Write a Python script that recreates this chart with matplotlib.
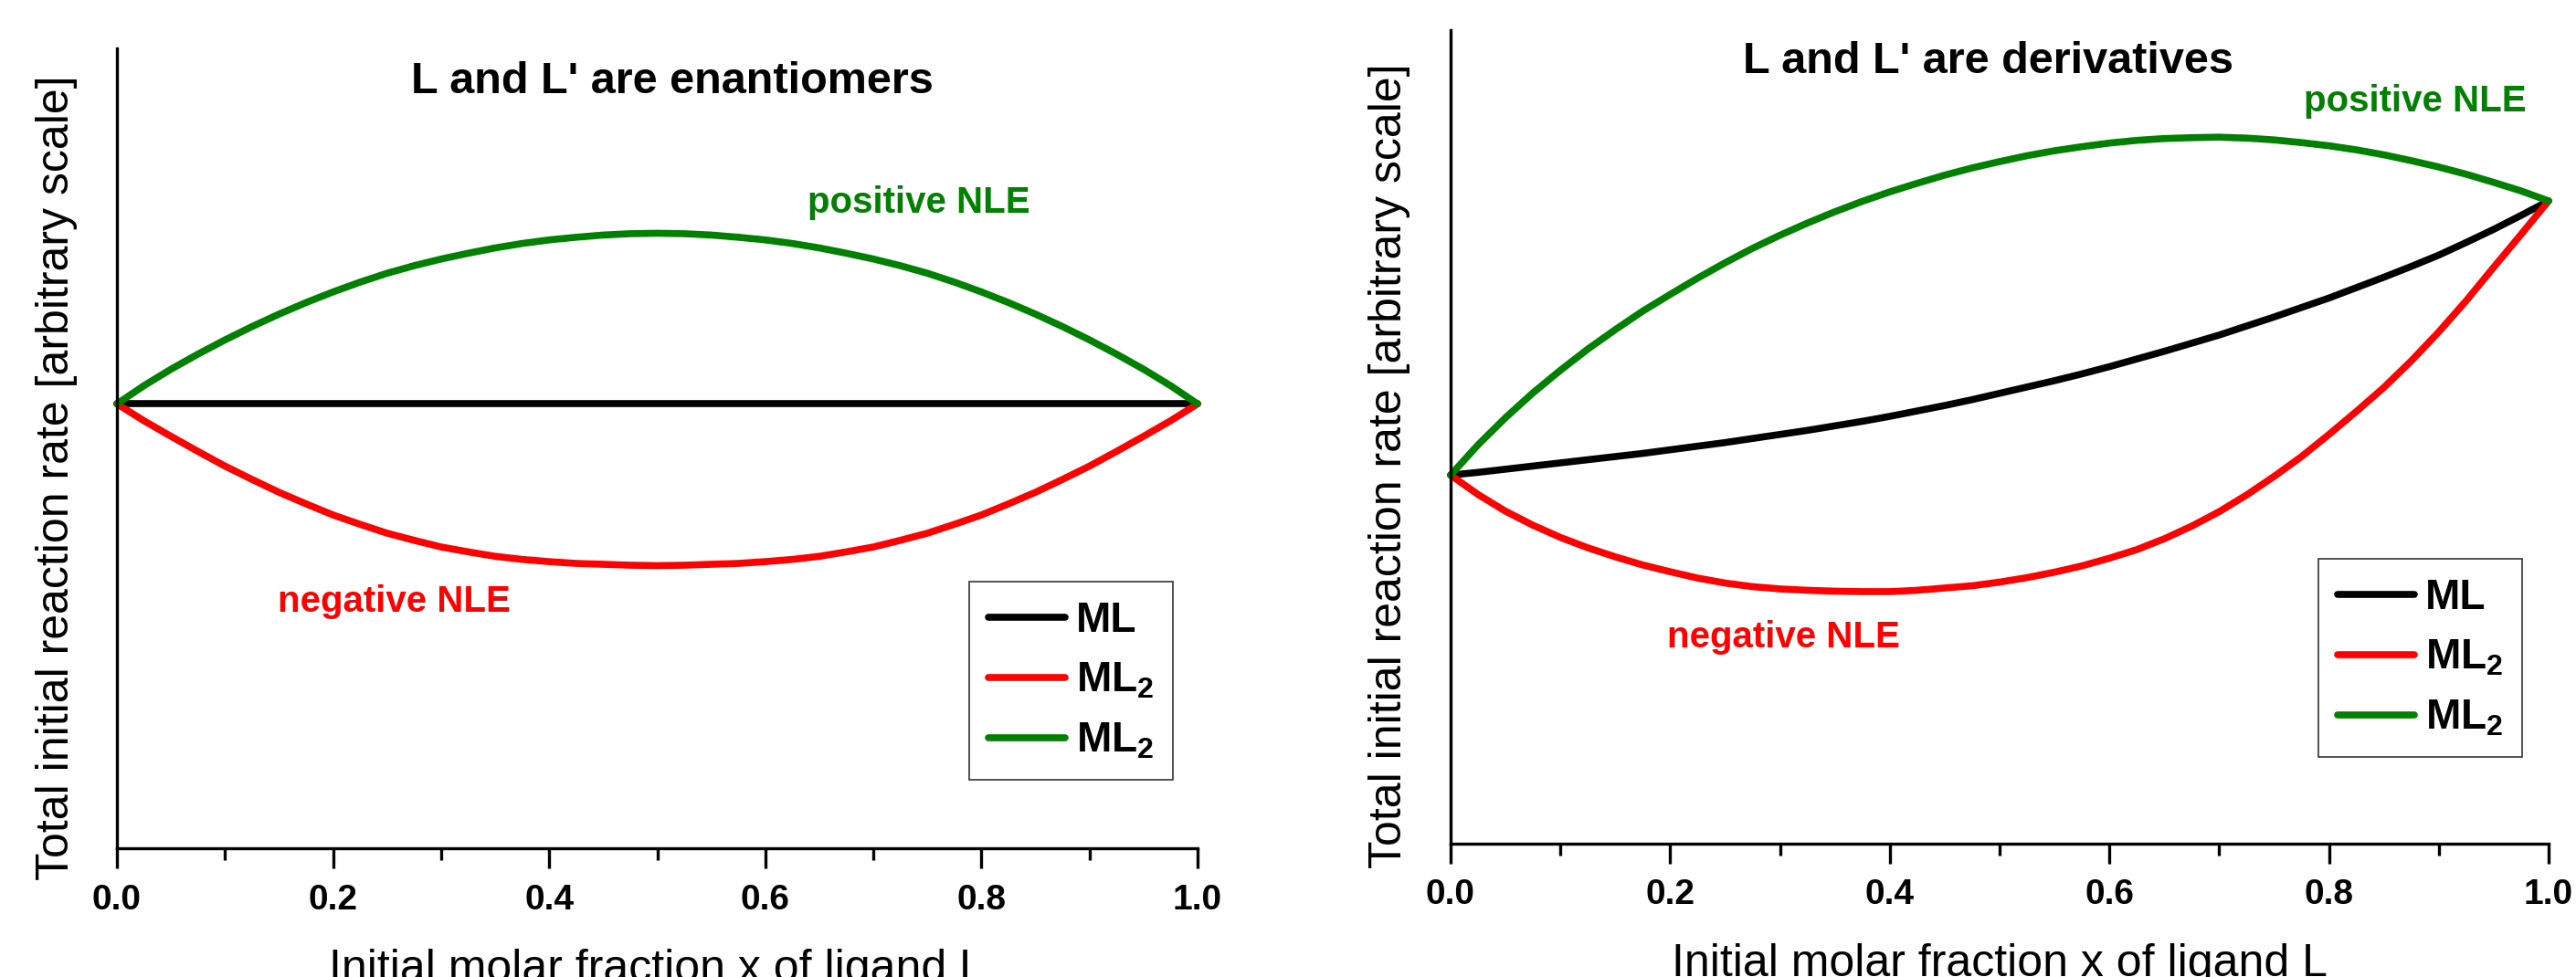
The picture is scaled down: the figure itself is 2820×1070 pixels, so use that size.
import matplotlib
matplotlib.use('agg')
import matplotlib.pyplot as plt
from matplotlib import font_manager

names = {f.name for f in font_manager.fontManager.ttflist}
fam = 'Liberation Sans' if 'Liberation Sans' in names else 'DejaVu Sans'
plt.rcParams['font.family'] = [fam, 'DejaVu Sans']
plt.rcParams['mathtext.fontset'] = 'custom'
plt.rcParams['mathtext.rm'] = fam + ':bold'
plt.rcParams['mathtext.bf'] = fam + ':bold'
plt.rcParams['mathtext.default'] = 'bf'

# molar fraction grid, step 0.025
x_frac = [i * 0.025 for i in range(41)]

# L and L' are enantiomers
ml_enant = [1.0] * 41
neg_enant = [1.0, 0.962, 0.927, 0.893, 0.860, 0.830, 0.801, 0.775, 0.750, 0.729,
             0.709, 0.693, 0.678, 0.667, 0.657, 0.650, 0.645, 0.641, 0.639, 0.637,
             0.636,
             0.637, 0.639, 0.641, 0.645, 0.650, 0.657, 0.667, 0.678, 0.693, 0.709,
             0.729, 0.750, 0.775, 0.801, 0.830, 0.860, 0.893, 0.927, 0.962, 1.0]
pos_enant = [1.0, 1.041, 1.078, 1.112, 1.144, 1.174, 1.202, 1.228, 1.252, 1.274,
             1.294, 1.311, 1.326, 1.339, 1.351, 1.361, 1.369, 1.375, 1.380, 1.383,
             1.384,
             1.383, 1.380, 1.375, 1.369, 1.361, 1.351, 1.339, 1.326, 1.311, 1.294,
             1.274, 1.252, 1.228, 1.202, 1.174, 1.144, 1.112, 1.078, 1.041, 1.0]

# L and L' are derivatives
ml_deriv = [0.815, 0.821, 0.828, 0.835, 0.842, 0.849, 0.856, 0.863, 0.871, 0.879,
            0.887, 0.896, 0.905, 0.914, 0.924, 0.934, 0.945, 0.957, 0.969, 0.982,
            0.996, 1.010, 1.024, 1.039, 1.055, 1.072, 1.089, 1.107, 1.125, 1.145,
            1.165, 1.186, 1.207, 1.230, 1.253, 1.277, 1.302, 1.330, 1.359, 1.390,
            1.422]
neg_deriv = [0.815, 0.772, 0.735, 0.704, 0.677, 0.654, 0.634, 0.616, 0.601, 0.587,
             0.576, 0.568, 0.563, 0.560, 0.558, 0.557, 0.557, 0.560, 0.565, 0.570,
             0.578, 0.588, 0.600, 0.614, 0.631, 0.650, 0.674, 0.702, 0.734, 0.771,
             0.812, 0.856, 0.905, 0.956, 1.009, 1.068, 1.132, 1.201, 1.275, 1.348,
             1.422]
pos_deriv = [0.815, 0.882, 0.942, 0.997, 1.047, 1.094, 1.137, 1.178, 1.215, 1.251,
             1.285, 1.317, 1.346, 1.373, 1.398, 1.421, 1.442, 1.461, 1.479, 1.495,
             1.509, 1.522, 1.533, 1.542, 1.550, 1.556, 1.560, 1.562, 1.563, 1.561,
             1.557, 1.551, 1.544, 1.535, 1.524, 1.511, 1.497, 1.481, 1.463, 1.444,
             1.422]

xticks = [0.0, 0.2, 0.4, 0.6, 0.8, 1.0]
xtick_labels = ['0.0', '0.2', '0.4', '0.6', '0.8', '1.0']
leg_labels = ['ML', 'ML$_2$', 'ML$_2$']

W, H = 2820, 1070
fig = plt.figure(figsize=(W / 100, H / 100), dpi=100)


def fx(p):
    return p / W


def fy(p):
    return 1 - p / H


def panel(rect, ml, neg, pos, title, tpos, pos_xy, neg_xy, ylab_xy, leg_xy):
    ax = fig.add_axes(rect)
    style = dict(lw=5.5, solid_capstyle='round', solid_joinstyle='round', clip_on=False)
    l1, = ax.plot(x_frac, ml, color='black', **style)
    l2, = ax.plot(x_frac, neg, color='#ff0000', **style)
    l3, = ax.plot(x_frac, pos, color='#008000', **style)
    ax.set_xlim(0, 1)
    ax.set_ylim(0, 1.8)
    for s in ['top', 'right']:
        ax.spines[s].set_visible(False)
    for s in ['left', 'bottom']:
        ax.spines[s].set_linewidth(2.4)
    ax.set_yticks([])
    ax.set_xticks(xticks)
    ax.set_xticklabels(xtick_labels, fontsize=28, fontweight='bold')
    ax.set_xticks([0.1, 0.3, 0.5, 0.7, 0.9], minor=True)
    ax.tick_params(axis='x', which='major', length=16, width=2.4, pad=12)
    ax.tick_params(axis='x', which='minor', length=9, width=2.4)
    ax.set_xlabel('Initial molar fraction x of ligand L', fontsize=36, labelpad=25)

    fig.text(fx(tpos[0]), fy(tpos[1]), title, fontsize=35, fontweight='bold',
             ha='center', va='center')
    fig.text(fx(pos_xy[0]), fy(pos_xy[1]), 'positive NLE', fontsize=29, fontweight='bold',
             color='#008000', ha='center', va='center')
    fig.text(fx(neg_xy[0]), fy(neg_xy[1]), 'negative NLE', fontsize=29, fontweight='bold',
             color='#ff0000', ha='center', va='center')
    fig.text(fx(ylab_xy[0]), fy(ylab_xy[1]), 'Total initial reaction rate [arbitrary scale]',
             fontsize=36, rotation=90, ha='center', va='center')

    leg = ax.legend([l1, l2, l3], leg_labels, loc='upper left',
                    bbox_to_anchor=(fx(leg_xy[0]), fy(leg_xy[1])),
                    bbox_transform=fig.transFigure, borderaxespad=0,
                    prop={'size': 33, 'weight': 'bold'}, handlelength=1.85,
                    handletextpad=0.26, borderpad=0.45, labelspacing=0.48,
                    fancybox=False, framealpha=1)
    leg.get_frame().set_edgecolor('#333333')
    leg.get_frame().set_linewidth(1.2)
    for h in leg.get_lines():
        h.set_solid_capstyle('round')
        h.set_linewidth(5.5)
    return ax


panel([fx(128), fy(929), (1311 - 128) / W, (929 - 53) / H],
      ml_enant, neg_enant, pos_enant, "L and L' are enantiomers",
      (736, 89), (1006, 222), (431, 659), (62, 523), (1061, 637))
panel([fx(1588), fy(923.5), (2790 - 1588) / W, (923.5 - 33) / H],
      ml_deriv, neg_deriv, pos_deriv, "L and L' are derivatives",
      (2177, 68), (2644, 111), (1952, 698), (1521, 510), (2538, 612))

fig.savefig('out.png', dpi=100)
